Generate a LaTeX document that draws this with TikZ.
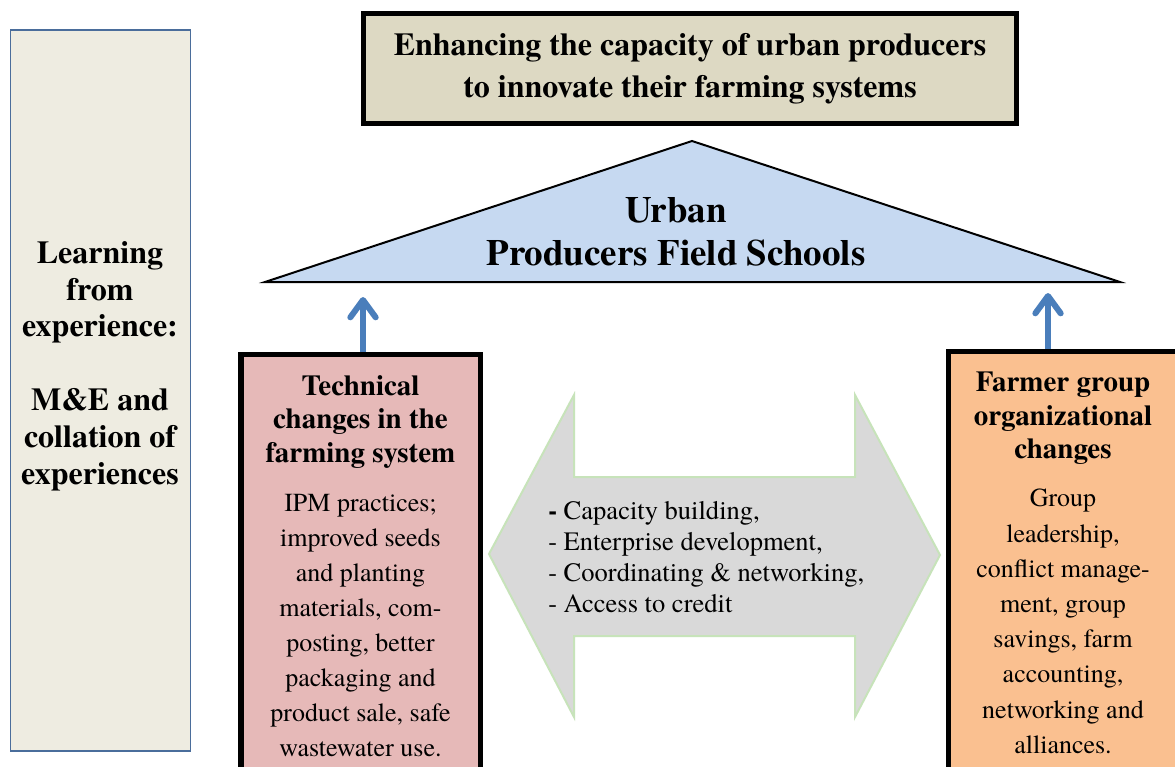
\documentclass[tikz,border=0pt]{standalone}
\usepackage{fontspec}
\setmainfont{texgyretermes}[Extension=.otf,UprightFont=*-regular,BoldFont=*-bold,ItalicFont=*-italic,BoldItalicFont=*-bolditalic]
\usetikzlibrary{arrows.meta}
\definecolor{leftfill}{HTML}{EEECE1}
\definecolor{leftdraw}{HTML}{4A6D9B}
\definecolor{topfill}{HTML}{DDD9C3}
\definecolor{trifill}{HTML}{C6D9F1}
\definecolor{pinkfill}{HTML}{E6B9B8}
\definecolor{orangefill}{HTML}{FAC090}
\definecolor{grayfill}{HTML}{D9D9D9}
\definecolor{graydraw}{HTML}{C7E3BA}
\definecolor{arrowblue}{HTML}{4A7EBB}
\begin{document}
\begin{tikzpicture}[x=0.75pt,y=-0.75pt,
  thickbox/.style={draw=black,line width=4.1pt,inner sep=0pt},
  txt/.style={inner sep=0pt,align=center},
  boldtitle/.style={txt,font=\bfseries\fontsize{21.75}{25.2}\selectfont},
  upward/.style={draw=arrowblue,line width=4.5pt,-{Straight Barb[length=13pt,width=19pt,round]}}]
\clip (0,0) rectangle (1175,767);
\fill[white] (0,0) rectangle (1175,767);

% left box
\node[draw=leftdraw,fill=leftfill,line width=0.9pt,inner sep=0pt,
      minimum width=135pt,minimum height=540.75pt] (learn) at (100.5,390.5) {};
\node[txt,font=\bfseries\fontsize{24}{27.6}\selectfont] (learntxt) at (100,366)
  {Learning\\from\\experience:\\[27.6pt]M\&E and\\collation of\\experiences};

% top box
\node[thickbox,line width=3.75pt,fill=topfill,minimum width=489.75pt,minimum height=82.5pt,
      align=center,font=\bfseries\fontsize{24}{31.3}\selectfont] (goal) at (690,68.5)
  {Enhancing the capacity of urban producers\\to innovate their farming systems};

% triangle
\coordinate (triL) at (265,282);
\coordinate (triT) at (692,141);
\coordinate (triR) at (1120,282);
\draw[fill=trifill,line width=1.5pt] (triL) -- (triT) -- (triR) -- cycle;
\node[txt,font=\bfseries\fontsize{27.75}{32.2}\selectfont] (ufs) at (676,232)
  {Urban\\Producers Field Schools};

% central double arrow
\draw[fill=grayfill,draw=graydraw,line width=1.5pt]
  (489,554) -- (574,395) -- (574,477) -- (855,477) -- (855,395) -- (940,555)
  -- (855,717) -- (855,636) -- (574,636) -- (574,717) -- cycle;
\node[inner sep=0pt,anchor=west,align=left,font=\fontsize{19.9}{23.3}\selectfont] (acts) at (548,557)
  {\textbf{-} Capacity building,\\- Enterprise development,\\- Coordinating \& networking,\\- Access to credit};

% technical box
\node[thickbox,fill=pinkfill,minimum width=179.6pt,minimum height=346.9pt] (tech) at (360.5,586) {};
\node[boldtitle] (techt) at (360.5,422) {Technical\\changes in the\\farming system};
\node[txt,font=\fontsize{19.5}{26.25}\selectfont] (techb) at (360.5,626)
  {IPM practices;\\improved seeds\\and planting\\materials, com-\\posting, better\\packaging and\\product sale, safe\\wastewater use.};

% farmer group box
\node[thickbox,fill=orangefill,minimum width=240pt,minimum height=346.9pt] (farm) at (1108.75,583) {};
\node[boldtitle] (farmt) at (1063,418.5) {Farmer group\\organizational\\changes};
\node[txt,font=\fontsize{19.5}{26.4}\selectfont] (farmb) at (1063,621.5)
  {Group\\leadership,\\conflict manage-\\ment, group\\savings, farm\\accounting,\\networking and\\alliances.};

% upward arrows
\coordinate (tipL) at (363,297);
\coordinate (tipR) at (1048,293);
\draw[upward] (tech.north -| tipL) -- (tipL);
\draw[upward] (farm.north -| tipR) -- (tipR);
\end{tikzpicture}
\end{document}
